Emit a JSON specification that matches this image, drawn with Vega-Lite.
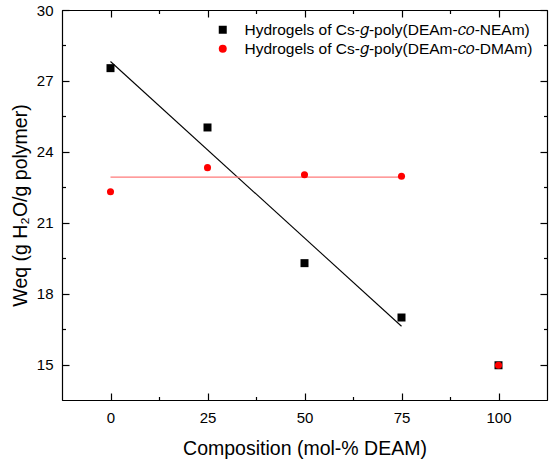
{
  "$schema": "https://vega.github.io/schema/vega-lite/v6.json",
  "autosize": "none",
  "width": 485,
  "height": 390,
  "padding": {"left": 62, "top": 10, "right": 3, "bottom": 61},
  "background": "white",
  "datasets": {
    "points": [
      {"composition": 0, "weq": 27.54, "series": "Hydrogels of Cs-𝑔-poly(DEAm-𝑐𝑜-NEAm)"},
      {"composition": 25, "weq": 25.03, "series": "Hydrogels of Cs-𝑔-poly(DEAm-𝑐𝑜-NEAm)"},
      {"composition": 50, "weq": 19.29, "series": "Hydrogels of Cs-𝑔-poly(DEAm-𝑐𝑜-NEAm)"},
      {"composition": 75, "weq": 16.99, "series": "Hydrogels of Cs-𝑔-poly(DEAm-𝑐𝑜-NEAm)"},
      {"composition": 100, "weq": 14.97, "series": "Hydrogels of Cs-𝑔-poly(DEAm-𝑐𝑜-NEAm)"},
      {"composition": 0, "weq": 22.31, "series": "Hydrogels of Cs-𝑔-poly(DEAm-𝑐𝑜-DMAm)"},
      {"composition": 25, "weq": 23.33, "series": "Hydrogels of Cs-𝑔-poly(DEAm-𝑐𝑜-DMAm)"},
      {"composition": 50, "weq": 23.03, "series": "Hydrogels of Cs-𝑔-poly(DEAm-𝑐𝑜-DMAm)"},
      {"composition": 75, "weq": 22.97, "series": "Hydrogels of Cs-𝑔-poly(DEAm-𝑐𝑜-DMAm)"},
      {"composition": 100, "weq": 14.97, "series": "Hydrogels of Cs-𝑔-poly(DEAm-𝑐𝑜-DMAm)"}
    ],
    "fits": [
      {"composition": 0, "weq": 27.82, "fit": "NEAm"},
      {"composition": 75, "weq": 16.62, "fit": "NEAm"},
      {"composition": 0, "weq": 22.93, "fit": "DMAm"},
      {"composition": 75, "weq": 22.93, "fit": "DMAm"}
    ]
  },
  "resolve": {"axis": {"x": "independent", "y": "independent"}},
  "layer": [
    {
      "data": {"name": "fits"},
      "transform": [{"filter": "datum.fit === 'NEAm'"}],
      "mark": {"type": "line", "color": "black", "strokeWidth": 1.1},
      "encoding": {
        "x": {"field": "composition", "type": "quantitative",
              "scale": {"domain": [-12.5, 112.5], "nice": false, "zero": false},
              "axis": {"orient": "top", "values": [0, 25, 50, 75, 100], "labels": false, "title": null, "tickSize": -7, "grid": false}},
        "y": {"field": "weq", "type": "quantitative",
              "scale": {"domain": [13.5, 30], "nice": false, "zero": false},
              "axis": {"orient": "right", "values": [15, 18, 21, 24, 27, 30], "labels": false, "title": null, "tickSize": -7, "grid": false}}
      }
    },
    {
      "data": {"name": "fits"},
      "transform": [{"filter": "datum.fit === 'DMAm'"}],
      "mark": {"type": "line", "color": "#ff7a7a", "strokeWidth": 1.1},
      "encoding": {
        "x": {"field": "composition", "type": "quantitative",
              "axis": {"orient": "top", "values": [12.5, 37.5, 62.5, 87.5], "labels": false, "title": null, "domain": false, "tickSize": -3.5, "grid": false}},
        "y": {"field": "weq", "type": "quantitative",
              "axis": {"orient": "right", "values": [16.5, 19.5, 22.5, 25.5, 28.5], "labels": false, "title": null, "domain": false, "tickSize": -3.5, "grid": false}}
      }
    },
    {
      "data": {"name": "points"},
      "transform": [{"filter": "indexof(datum.series, 'NEAm') >= 0"}],
      "mark": {"type": "point", "filled": true, "opacity": 1, "size": 64},
      "encoding": {
        "x": {"field": "composition", "type": "quantitative",
              "axis": {"orient": "bottom", "values": [0, 25, 50, 75, 100], "title": "Composition (mol-% DEAM)", "tickSize": -7, "labelPadding": 17, "titlePadding": 14, "grid": false}},
        "y": {"field": "weq", "type": "quantitative",
              "axis": {"orient": "left", "values": [15, 18, 21, 24, 27, 30], "title": "Weq (g H₂O/g polymer)", "tickSize": -7, "labelPadding": 16, "titlePadding": 6, "grid": false}},
        "color": {"field": "series", "type": "nominal",
                  "scale": {"domain": ["Hydrogels of Cs-𝑔-poly(DEAm-𝑐𝑜-NEAm)", "Hydrogels of Cs-𝑔-poly(DEAm-𝑐𝑜-DMAm)"], "range": ["black", "red"]},
                  "legend": {"title": null, "orient": "none", "legendX": 153, "legendY": 12}},
        "shape": {"field": "series", "type": "nominal",
                  "scale": {"domain": ["Hydrogels of Cs-𝑔-poly(DEAm-𝑐𝑜-NEAm)", "Hydrogels of Cs-𝑔-poly(DEAm-𝑐𝑜-DMAm)"], "range": ["square", "circle"]},
                  "legend": {"title": null, "orient": "none", "legendX": 153, "legendY": 12}}
      }
    },
    {
      "data": {"name": "points"},
      "transform": [{"filter": "indexof(datum.series, 'DMAm') >= 0"}],
      "mark": {"type": "point", "filled": true, "opacity": 1, "size": 50},
      "encoding": {
        "x": {"field": "composition", "type": "quantitative",
              "axis": {"orient": "bottom", "values": [12.5, 37.5, 62.5, 87.5], "labels": false, "title": null, "domain": false, "tickSize": -3.5, "grid": false}},
        "y": {"field": "weq", "type": "quantitative",
              "axis": {"orient": "left", "values": [16.5, 19.5, 22.5, 25.5, 28.5], "labels": false, "title": null, "domain": false, "tickSize": -3.5, "grid": false}},
        "color": {"field": "series", "type": "nominal"},
        "shape": {"field": "series", "type": "nominal"}
      }
    }
  ],
  "config": {
    "view": {"stroke": "black", "strokeWidth": 1},
    "font": "Liberation Sans",
    "axis": {
      "domainColor": "black",
      "domainWidth": 1.2,
      "tickColor": "black",
      "tickWidth": 1.2,
      "labelColor": "black",
      "labelFont": "Liberation Sans",
      "labelFontSize": 15,
      "titleFont": "Liberation Sans",
      "titleFontSize": 19.5,
      "titleFontWeight": "normal",
      "titleColor": "black"
    },
    "legend": {
      "labelFont": "Liberation Sans",
      "labelFontSize": 15.5,
      "labelColor": "black",
      "labelLimit": 400,
      "symbolSize": 64,
      "symbolStrokeWidth": 0,
      "labelOffset": 14,
      "rowPadding": 2,
      "padding": 0
    }
  }
}
